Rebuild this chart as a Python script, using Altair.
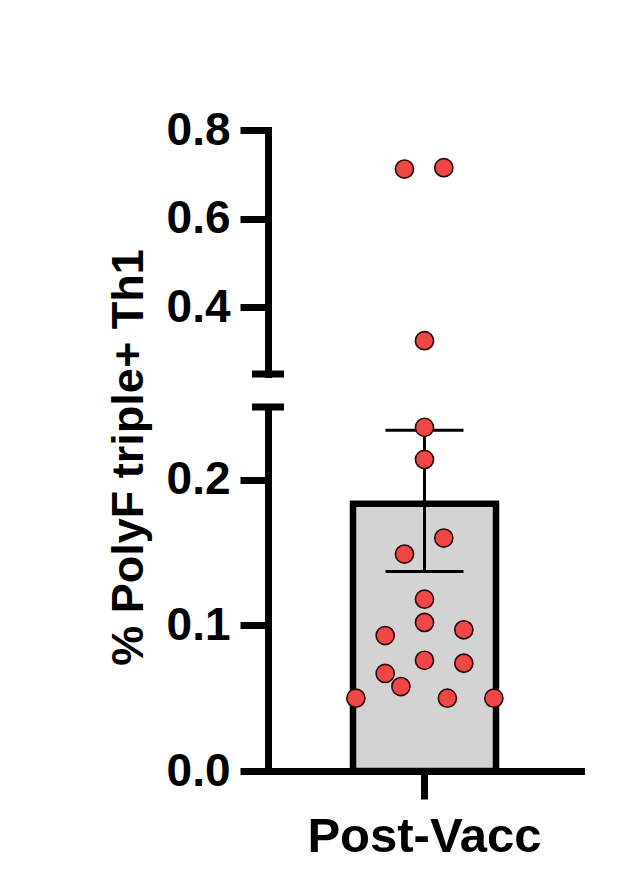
import altair as alt
import pandas as pd

# ---- data ----
group = ["Post-Vacc"]
values = [0.712, 0.715, 0.325, 0.236, 0.214, 0.160, 0.149, 0.118, 0.102,
          0.093, 0.097, 0.076, 0.074, 0.067, 0.058, 0.050, 0.050, 0.050]
jitter = [-0.28, 0.27, 0.0, 0.0, 0.0, 0.27, -0.28, 0.0, 0.0,
          -0.55, 0.55, 0.0, 0.55, -0.55, -0.33, -0.96, 0.32, 0.97]
bar_mean = [0.1835]
err_low = [0.137]
err_high = [0.234]
break_value = [0.25]
top_ticks = [0.4, 0.6, 0.8]
bottom_ticks = [0.0, 0.1, 0.2]
y_title = "% PolyF triple+ Th1"

pts = pd.DataFrame({"group": group * len(values), "value": values, "jitter": jitter})
summary = pd.DataFrame({"group": group, "mean": bar_mean, "low": err_low, "high": err_high})
brk = pd.DataFrame({"value": break_value})

W = 313
BAR = 143
FONT = "Liberation Sans"
RED = "#F04646"


def yaxis(ticks, with_title):
    kw = dict(values=ticks, format=".1f", grid=False,
              domainWidth=7, domainColor="black", domainCap="square",
              tickWidth=7, tickSize=28, tickColor="black",
              labelFont=FONT, labelFontSize=46, labelFontWeight="bold",
              labelColor="black", labelPadding=10)
    if with_title:
        kw.update(title=y_title, titleFont=FONT, titleFontSize=45,
                  titleFontWeight="bold", titleColor="black", titleAngle=270,
                  titleAlign="center", titleBaseline="alphabetic",
                  titleX=-126, titleY=50)
    else:
        kw.update(title=None)
    return alt.Axis(**kw)


xscale = alt.Scale(paddingInner=0, paddingOuter=0)
xaxis_bottom = alt.Axis(title=None, labelAngle=0, grid=False, labelLimit=0,
                        labelFont=FONT, labelFontSize=49, labelFontWeight="bold",
                        labelColor="black", labelPadding=13,
                        tickSize=28, tickWidth=7, tickColor="black",
                        domainWidth=7, domainColor="black", domainCap="square")
xoff = alt.XOffset("jitter:Q", scale=alt.Scale(domain=[-1, 1],
                                                range=[W / 2 - BAR / 2, W / 2 + BAR / 2]))

# ---------- bottom panel ----------
ysb = alt.Scale(domain=[0, 0.25], nice=False, zero=False)
ax_b = yaxis(bottom_ticks, True)

bar = alt.Chart(summary).mark_bar(size=BAR, fill="#D3D3D3", stroke="black",
                                  strokeWidth=6.5, opacity=1).encode(
    x=alt.X("group:N", scale=xscale, axis=xaxis_bottom),
    y=alt.Y("mean:Q", scale=ysb, axis=ax_b),
)
stem = alt.Chart(summary).mark_rule(strokeWidth=3, color="black", opacity=1).encode(
    x=alt.X("group:N", scale=xscale, axis=xaxis_bottom),
    y=alt.Y("low:Q", scale=ysb, axis=ax_b),
    y2="high:Q",
)
cap_lo = alt.Chart(summary).mark_tick(size=78, thickness=3, color="black",
                                      opacity=1).encode(
    x=alt.X("group:N", scale=xscale, axis=xaxis_bottom),
    y=alt.Y("low:Q", scale=ysb, axis=ax_b),
)
cap_hi = alt.Chart(summary).mark_tick(size=78, thickness=3, color="black",
                                      opacity=1).encode(
    x=alt.X("group:N", scale=xscale, axis=xaxis_bottom),
    y=alt.Y("high:Q", scale=ysb, axis=ax_b),
)
dots_b = alt.Chart(pts).transform_filter("datum.value < 0.25").mark_circle(
    size=330, color=RED, stroke="#2a0808", strokeWidth=1.6, opacity=1).encode(
    x=alt.X("group:N", scale=xscale, axis=xaxis_bottom),
    xOffset=xoff,
    y=alt.Y("value:Q", scale=ysb, axis=ax_b),
)
brk_b = alt.Chart(brk).mark_rule(strokeWidth=7, color="black").encode(
    y=alt.Y("value:Q", scale=ysb, axis=ax_b),
    x=alt.value(-16), x2=alt.value(16),
)
bottom = alt.layer(bar, stem, cap_lo, cap_hi, dots_b, brk_b).properties(width=W, height=364)

# ---------- top panel ----------
yst = alt.Scale(domain=[0.25, 0.8], nice=False, zero=False)
ax_t = yaxis(top_ticks, False)
dots_t = alt.Chart(pts).transform_filter("datum.value >= 0.25").mark_circle(
    size=330, color=RED, stroke="#2a0808", strokeWidth=1.6, opacity=1).encode(
    x=alt.X("group:N", scale=xscale, axis=None),
    xOffset=xoff,
    y=alt.Y("value:Q", scale=yst, axis=ax_t),
)
brk_t = alt.Chart(brk).mark_rule(strokeWidth=7, color="black").encode(
    y=alt.Y("value:Q", scale=yst, axis=ax_t),
    x=alt.value(-16), x2=alt.value(16),
)
top = alt.layer(dots_t, brk_t).properties(width=W, height=244)

chart = alt.vconcat(top, bottom, spacing=33, bounds="flush").configure_view(
    stroke=None).properties(
    padding={"left": 97, "top": 99, "right": 10, "bottom": 10},
    background="white")

chart.save("out.html", embed_options={"renderer": "svg", "actions": False})
